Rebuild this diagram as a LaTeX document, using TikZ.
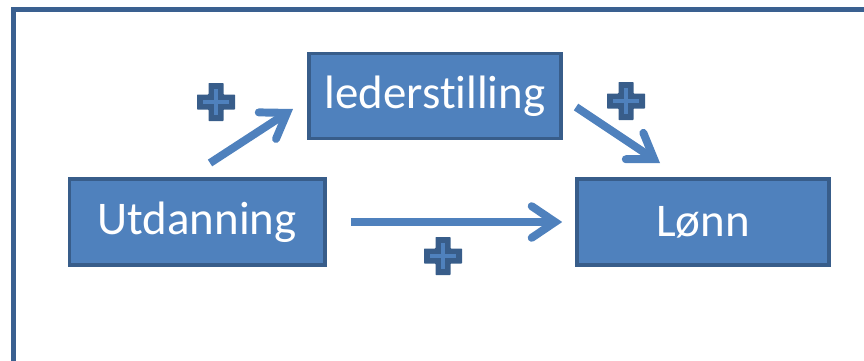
\documentclass[tikz,border=0pt]{standalone}
\usepackage{fontspec}
\setmainfont{Carlito}[Ligatures=NoCommon]
\usetikzlibrary{arrows.meta}
\definecolor{boxfill}{HTML}{4F81BD}
\definecolor{boxline}{HTML}{385D8A}
\definecolor{framecol}{HTML}{3A6090}
\tikzset{
  varbox/.style={draw=boxline, fill=boxfill, line width=3.4pt, inner sep=0pt,
    text=white, font=\fontsize{40}{48}\selectfont},
  effect/.style={draw=boxfill, line width=6.8pt,
    -{Straight Barb[length=20pt, width=27pt, line cap=round, line width=6.8pt]}},
  pics/plusmark/.style={code={
    \fill[boxline, rounded corners=0.5pt] (-19,-7.5) -- (-7.5,-7.5) -- (-7.5,-19) -- (7.5,-19) -- (7.5,-7.5)
      -- (19,-7.5) -- (19,7.5) -- (7.5,7.5) -- (7.5,19) -- (-7.5,19) -- (-7.5,7.5) -- (-19,7.5) -- cycle;
    \draw[boxfill, line width=4.2pt] (-13,0) -- (13,0) (0,-13) -- (0,13);
  }}
}
\begin{document}
\begin{tikzpicture}[x=0.03cm, y=-0.03cm]
  \useasboundingbox (0,0) rectangle (864,360);
  \clip (0,0) rectangle (864,360);
  \draw[framecol, line width=4.4pt] (13.5,9.5) rectangle (900,400);

  \node[varbox, minimum width=7.55cm, minimum height=2.55cm] (leder) at (435,96) {lederstilling};
  \node[varbox, minimum width=7.65cm, minimum height=2.57cm] (utd) at (197,222) {Utdanning};
  \node[varbox, minimum width=7.55cm, minimum height=2.57cm] (lonn) at (703,222) {Lønn};

  \coordinate (a1) at (210,163);
  \coordinate (b1) at (293,109);
  \coordinate (a2) at (576,107);
  \coordinate (b2) at (660,163);
  \draw[effect] (a1) -- (b1);
  \draw[effect] (a2) -- (b2);
  \draw[effect, shorten <=25*0.85pt, shorten >=13*0.85pt] (utd.east) -- (lonn.west);

  \pic at (216,102) {plusmark};
  \pic at (626,101) {plusmark};
  \pic at (443,256) {plusmark};
\end{tikzpicture}
\end{document}
